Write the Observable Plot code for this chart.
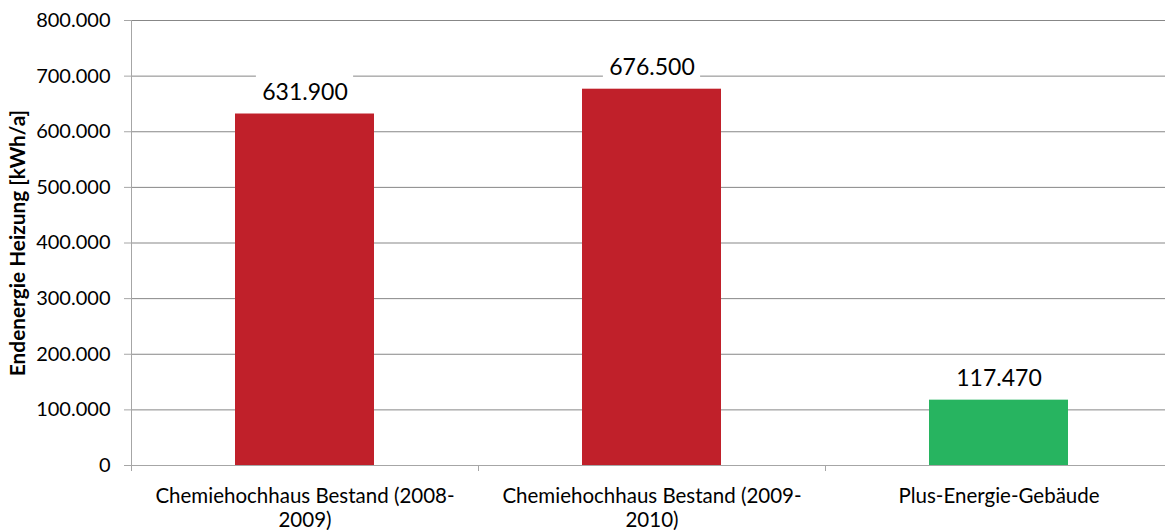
<!DOCTYPE html>
<html>
<head>
<meta charset="utf-8">
<script src="https://cdn.jsdelivr.net/npm/d3@7"></script>
<script src="https://cdn.jsdelivr.net/npm/@observablehq/plot@0.6"></script>
<style>
  html, body { margin: 0; padding: 0; background: #fff; overflow: hidden; }
  #chart svg { max-width: none !important; display: block; }
</style>
</head>
<body>
<div id="chart"></div>
<script>
// ---- data ----
const categories = [
  "Chemiehochhaus Bestand (2008-2009)",
  "Chemiehochhaus Bestand (2009-2010)",
  "Plus-Energie-Gebäude"
];
const tickLabels = [
  "Chemiehochhaus Bestand (2008-\n2009)",
  "Chemiehochhaus Bestand (2009-\n2010)",
  "Plus-Energie-Gebäude"
];
const values = [631900, 676500, 117470];
const barColors = ["#C0202A", "#C0202A", "#27B460"];
const yTicks = [0, 100000, 200000, 300000, 400000, 500000, 600000, 700000, 800000];
const yLabel = "Endenergie Heizung [kWh/a]";

const data = categories.map((c, i) => ({cat: c, value: values[i], color: barColors[i], tick: tickLabels[i]}));
const tickMap = new Map(categories.map((c, i) => [c, tickLabels[i]]));

const de = d3.formatLocale({decimal: ",", thousands: ".", grouping: [3], currency: ["", " €"]});
const fmt = de.format(",d");

// ---- layout ----
const W = 1172, H = 530, ML = 131, MR = 0, MT = 20, MB = 65;
const step = (W - ML - MR) / categories.length;
const padInner = 0.6, padOuter = 0.3;
const bandwidth = step * (1 - padInner);
const labelBoxW = 97;

const chart = Plot.plot({
  width: W,
  height: H,
  marginLeft: ML,
  marginRight: MR,
  marginTop: MT,
  marginBottom: MB,
  style: {fontFamily: "Lato, 'Open Sans', sans-serif", color: "#000", background: "#fff", maxWidth: "none"},
  x: {domain: categories, paddingInner: padInner, paddingOuter: padOuter, label: null},
  y: {domain: [0, 800000], label: null},
  color: {type: "identity"},
  marks: [
    Plot.gridY(yTicks, {stroke: "#878787", strokeOpacity: 1}),
    Plot.frame({anchor: "left", stroke: "#a6a6a6"}),
    Plot.frame({anchor: "bottom", stroke: "#a6a6a6"}),
    Plot.axisY(yTicks, {tickFormat: fmt, tickSize: 7, tickPadding: 14, fontSize: 20, stroke: "#a6a6a6", fill: "#000", label: null}),
    Plot.axisX({tickSize: 6, text: null, stroke: "#a6a6a6", dx: -step / 2, label: null}),
    Plot.axisX({tickSize: 0, tickPadding: 20, tickFormat: d => tickMap.get(d), fontSize: 20.5, lineHeight: 1.17, fill: "#000", label: null}),
    Plot.text([yLabel], {frameAnchor: "left", textAnchor: "middle", rotate: -90, dx: -113, fontSize: 20.8, fontWeight: "bold", fill: "#000"}),
    Plot.barY(data, {x: "cat", y: "value", fill: "color"}),
    Plot.barY(data, {x: "cat", y1: "value", y2: "value", fill: "#fff", insetTop: -41, insetBottom: 11,
      insetLeft: (bandwidth - labelBoxW) / 2, insetRight: (bandwidth - labelBoxW) / 2}),
    Plot.text(data, {x: "cat", y: "value", text: d => fmt(d.value), dy: -14, lineAnchor: "bottom", fontSize: 23, fill: "#000"})
  ]
});
document.getElementById("chart").appendChild(chart);
</script>
</body>
</html>
